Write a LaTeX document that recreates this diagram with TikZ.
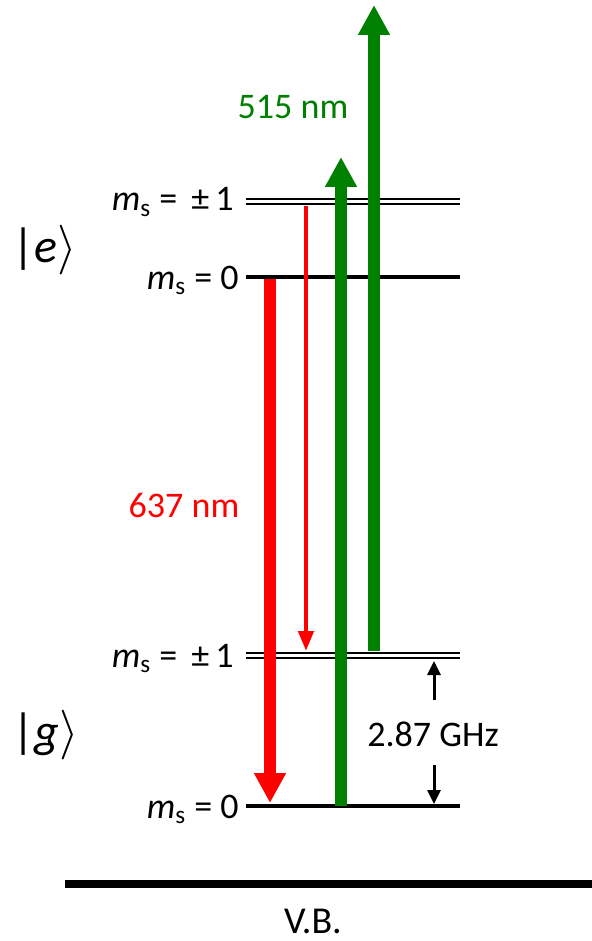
\documentclass[tikz,border=0pt]{standalone}
\usepackage{fontspec}
\setmainfont{Carlito}
\usepackage{tikz}
\usetikzlibrary{arrows.meta, positioning}
\definecolor{laserRed}{HTML}{FF0000}
\definecolor{laserGreen}{HTML}{008000}

\begin{document}
\begin{tikzpicture}[x=0.5pt,y=-0.5pt,
 level/.style={line width=2pt,draw=black},
 sublevel/.style={line width=1pt,draw=black},
 lvlabel/.style={anchor=base east,inner sep=0pt,font=\fontsize{18}{21}\selectfont},
 statelabel/.style={anchor=west,inner sep=0pt,font=\fontsize{24}{28}\selectfont},
 wavelabel/.style={anchor=base,inner sep=0pt,font=\fontsize{18}{21}\selectfont},
 bigarrow/.style={line width=6pt,-{Triangle[length=15pt,width=15pt]}},
 thinarrow/.style={line width=2.2pt,-{Triangle[length=10pt,width=7.5pt]}},
 gaparrow/.style={line width=1.5pt,-{Triangle[length=7pt,width=6.5pt]}}]
\useasboundingbox (0,0) rectangle (592,941);
% energy levels
\draw[sublevel] (246,199) -- (460,199);
\draw[sublevel] (246,204) -- (460,204);
\draw[level] (246,277) -- (460,277);
\draw[sublevel] (246,653) -- (460,653);
\draw[sublevel] (246,658) -- (460,658);
\draw[level] (246,806) -- (460,806);
\draw[line width=4pt] (65,884) -- (592,884);
% level labels
\node[lvlabel] (ep1) at (234,211) {\textit{m}\textsubscript{s} = \hspace{3pt}±\hspace{3pt}1};
\node[lvlabel] (e0) at (239,289) {\textit{m}\textsubscript{s} = 0};
\node[lvlabel] (gp1) at (234,667) {\textit{m}\textsubscript{s} = \hspace{3pt}±\hspace{3pt}1};
\node[lvlabel] (g0) at (239,818) {\textit{m}\textsubscript{s} = 0};
\node[statelabel] (es) at (12,250) {|\textit{e}$\rangle$};
\node[statelabel] (gs) at (12,735) {|\textit{g}$\rangle$};
\node[wavelabel,font=\fontsize{19}{22}\selectfont] (vb) at (313,933) {V.B.};
% transitions
\coordinate (redA) at (270,279);
\coordinate (redB) at (270,803);
\coordinate (redC) at (306,206);
\coordinate (redD) at (306,651);
\coordinate (grnA) at (341,806);
\coordinate (grnB) at (341,157);
\coordinate (grnC) at (374,651);
\coordinate (grnD) at (374,5);
\draw[bigarrow,laserRed] (redA) -- (redB);
\draw[thinarrow,laserRed] (redC) -- (redD);
\draw[bigarrow,laserGreen] (grnA) -- (grnB);
\draw[bigarrow,laserGreen] (grnC) -- (grnD);
\node[wavelabel,text=laserRed] (red) at (184,517) {637 nm};
\node[wavelabel,text=laserGreen] (green) at (293,119) {515 nm};
% splitting
\node[wavelabel,anchor=base west] (split) at (367,746) {2.87 GHz};
\coordinate (upA) at (434,700);
\coordinate (upB) at (434,661);
\coordinate (dnA) at (434,765);
\coordinate (dnB) at (434,804);
\draw[gaparrow] (upA) -- (upB);
\draw[gaparrow] (dnA) -- (dnB);
\end{tikzpicture}
\end{document}
